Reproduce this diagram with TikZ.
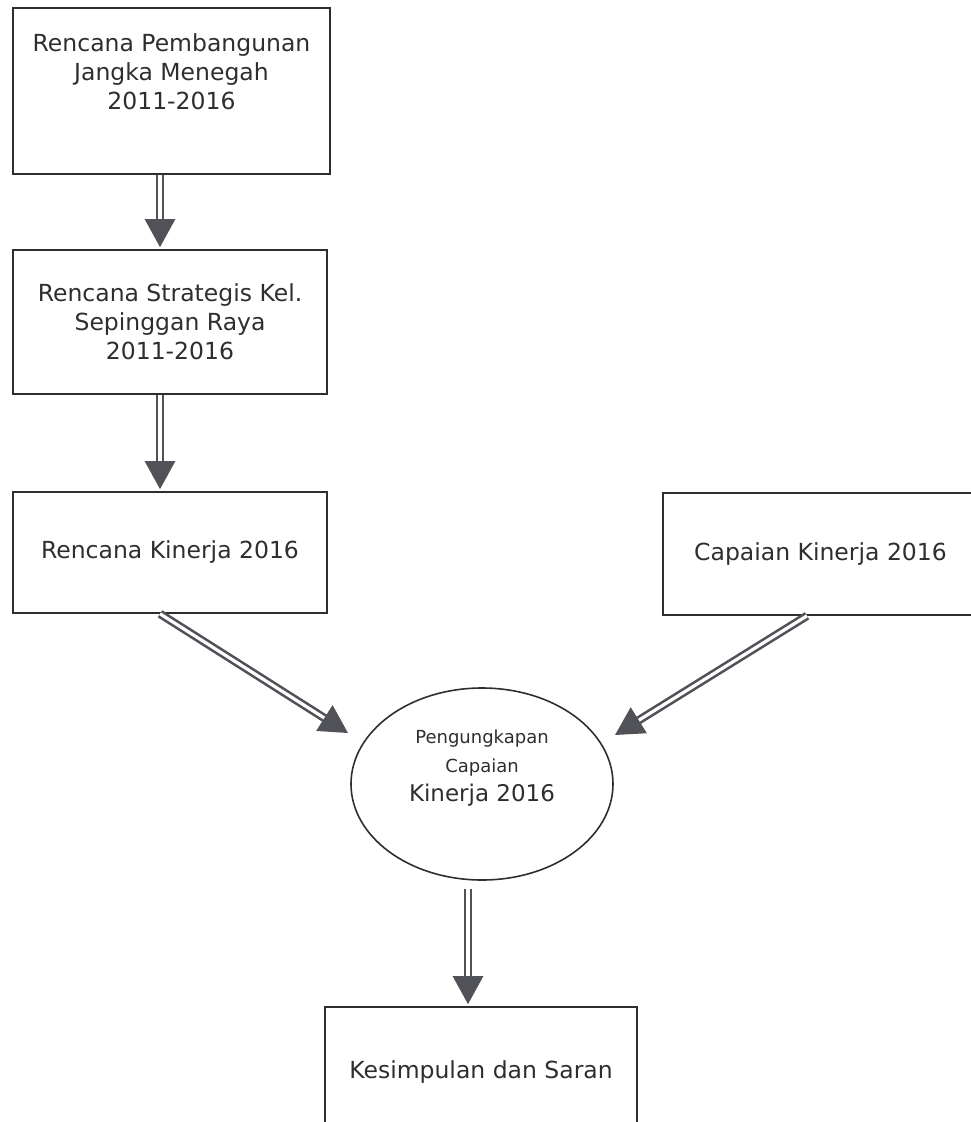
\documentclass[tikz,border=0pt]{standalone}
\usepackage{fontspec}
\setmainfont{DejaVu Sans}
\usetikzlibrary{arrows.meta,shapes.geometric,calc}
\definecolor{inkgray}{HTML}{2E2E2E}
\definecolor{arrowgray}{HTML}{505257}
\begin{document}
\begin{tikzpicture}[x=1pt,y=-1pt,
  box/.style={draw=inkgray,line width=1.6pt,rectangle,align=center,text=inkgray,
    font=\fontsize{23.5}{29}\selectfont},
  dblarrow/.style={draw=arrowgray,line width=2.6pt,double=white,double distance=3.2pt,
    -{Triangle[length=28pt,width=30pt]}}]
	%%
  \useasboundingbox (0,0) rectangle (970,1122);
  \node (rpjm) at (171.5,91) [box,minimum width=317,minimum height=166,text depth=38pt] {Rencana Pembangunan\\Jangka Menegah\\2011-2016};
  \node (renstra) at (170,322) [box,minimum width=314,minimum height=144] {Rencana Strategis Kel.\\Sepinggan Raya\\2011-2016};
  \node (renkin) at (170,552.5) [box,minimum width=314,minimum height=121] {Rencana Kinerja 2016};
  \node (capkin) at (820.5,554) [box,minimum width=315,minimum height=122] {Capaian Kinerja 2016};
  \node (ungkap) at (482,784) [draw=inkgray,line width=1.6pt,ellipse,minimum width=262,minimum height=192,
    inner sep=0pt,align=center,text=inkgray,text depth=36pt,font=\fontsize{18}{29}\selectfont]
    {Pengungkapan\\Capaian\\{\fontsize{23}{29}\selectfont Kinerja 2016}};
  \node (saran) at (481,1072) [box,minimum width=312,minimum height=130] {Kesimpulan dan Saran};
  \draw [dblarrow] ($(rpjm.south)+(-11.5,0)$) -- ($(renstra.north)+(-10,-2)$);
  \draw [dblarrow] ($(renstra.south)+(-10,0)$) -- ($(renkin.north)+(-10,-2)$);
  \draw [dblarrow] ($(renkin.south)+(-10,0)$) -- ($(ungkap.center)+(-134,-51)$);
  \draw [dblarrow] ($(capkin.south)+(-13.5,0)$) -- ($(ungkap.center)+(133,-49)$);
  \draw [dblarrow] ($(ungkap.south)+(-14,8)$) -- ($(saran.north)+(-13,-2)$);
	%
\end{tikzpicture}
\end{document}
